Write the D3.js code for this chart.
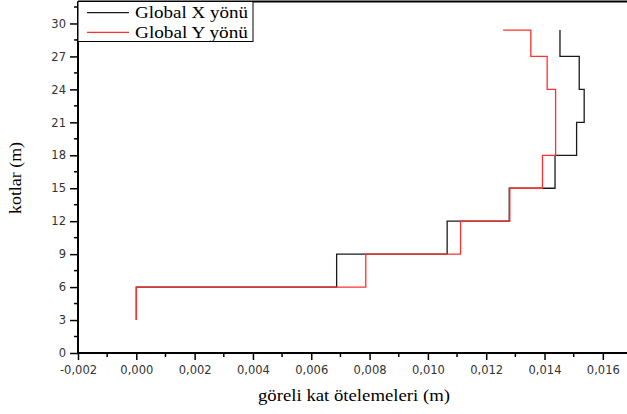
<!DOCTYPE html>
<html lang="tr">
<head>
<meta charset="UTF-8">
<title>Göreli kat ötelemeleri</title>
<script src="https://cdn.jsdelivr.net/npm/d3@7"></script>
<style>
  body { margin: 0; background: #fff; }
  svg { display: block; overflow: hidden; }
  .tick-label { font-family: "DejaVu Sans", Verdana, sans-serif; font-size: 11.5px; fill: #333; }
  .serif { font-family: "Liberation Serif", "Times New Roman", serif; fill: #000; }
</style>
</head>
<body>
<svg id="chart" width="627" height="414"></svg>
<script>
// kat yükseklikleri (m)
var heights = [3, 6, 9, 12, 15, 18, 21, 24, 27, 29.4];
// göreli kat ötelemeleri (m)
var globalX = [0, 0.00687, 0.01066, 0.01279, 0.01436, 0.01510, 0.01536, 0.01519, 0.01453, 0.01453];
var globalY = [0, 0.00787, 0.01112, 0.01281, 0.01393, 0.01438, 0.01438, 0.01409, 0.01353, 0.01258];
var seriesNames = ["Global X yönü", "Global Y yönü"];
var seriesColors = ["#1a1a1a", "#ff3030"];
var xTicks = [-0.002, 0, 0.002, 0.004, 0.006, 0.008, 0.010, 0.012, 0.014, 0.016];
var yTicks = [0, 3, 6, 9, 12, 15, 18, 21, 24, 27, 30];

var plotLeft = 78, plotRight = 632, plotTop = 1.5, plotBottom = 353;

var svg = d3.select("#chart");

var x = d3.scaleLinear().domain([-0.002, 0.017]).range([plotLeft, plotRight]);
var y = d3.scaleLinear().domain([0, 32]).range([plotBottom, plotTop]);

var loc = d3.formatLocale({decimal: ",", thousands: ".", grouping: [3], currency: ["", ""], minus: "-"});
var fmt = loc.format(".3f");

// minor ticks
var xMinor = d3.range(-0.001, 0.017, 0.002);
var yMinor = d3.range(1.5, 32, 3);

svg.append("g").selectAll("line").data(xMinor).enter().append("line")
  .attr("x1", function(d) { return x(d); }).attr("x2", function(d) { return x(d); })
  .attr("y1", plotBottom).attr("y2", plotBottom + 4)
  .attr("stroke", "#000").attr("stroke-width", 1.5);
svg.append("g").selectAll("line").data(yMinor).enter().append("line")
  .attr("y1", function(d) { return y(d); }).attr("y2", function(d) { return y(d); })
  .attr("x1", plotLeft).attr("x2", plotLeft - 4)
  .attr("stroke", "#000").attr("stroke-width", 1.5);

// major axes
var xAxis = svg.append("g")
  .attr("transform", "translate(0," + plotBottom + ")")
  .call(d3.axisBottom(x).tickValues(xTicks).tickFormat(fmt).tickSize(7).tickPadding(4));
var yAxis = svg.append("g")
  .attr("transform", "translate(" + plotLeft + ",0)")
  .call(d3.axisLeft(y).tickValues(yTicks).tickFormat(d3.format("d")).tickSize(8).tickPadding(4));

[xAxis, yAxis].forEach(function(a) {
  a.select(".domain").remove();
  a.selectAll(".tick line").attr("stroke", "#000").attr("stroke-width", 1.5);
  a.selectAll(".tick text").attr("class", "tick-label").attr("fill", null);
});
xAxis.selectAll(".tick text").attr("dy", "0.9em");

// frame
svg.append("line").attr("x1", plotLeft).attr("x2", plotLeft).attr("y1", plotTop).attr("y2", plotBottom + 1)
  .attr("stroke", "#000").attr("stroke-width", 2);
svg.append("line").attr("x1", plotLeft - 1).attr("x2", 627).attr("y1", plotBottom).attr("y2", plotBottom)
  .attr("stroke", "#000").attr("stroke-width", 2);
svg.append("line").attr("x1", plotLeft).attr("x2", 627).attr("y1", plotTop).attr("y2", plotTop)
  .attr("stroke", "#000").attr("stroke-width", 2);

// step lines
var line = d3.line()
  .x(function(d) { return x(d[0]); })
  .y(function(d) { return y(d[1]); })
  .curve(d3.curveStepBefore);

[globalX, globalY].forEach(function(vals, i) {
  var pts = vals.map(function(v, j) { return [v, heights[j]]; });
  svg.append("path").datum(pts)
    .attr("d", line)
    .attr("fill", "none")
    .attr("stroke", seriesColors[i])
    .attr("stroke-width", 1.3);
});

// legend
var lg = svg.append("g");
lg.append("rect").attr("x", plotLeft).attr("y", plotTop).attr("width", 175).attr("height", 40)
  .attr("fill", "#fff").attr("stroke", "#000").attr("stroke-width", 1);
seriesNames.forEach(function(name, i) {
  var ly = 12.7 + i * 19.6;
  lg.append("line").attr("x1", 87).attr("x2", 129).attr("y1", ly).attr("y2", ly)
    .attr("stroke", seriesColors[i]).attr("stroke-width", 1.3);
  lg.append("text").attr("class", "serif").attr("x", 135).attr("y", ly + 5.5)
    .attr("font-size", "17px")
    .attr("textLength", 113).attr("lengthAdjust", "spacingAndGlyphs")
    .text(name);
});

// axis titles
svg.append("text").attr("class", "serif").attr("font-size", "17px")
  .attr("text-anchor", "middle").attr("x", 354).attr("y", 401)
  .attr("textLength", 192).attr("lengthAdjust", "spacingAndGlyphs")
  .text("göreli kat ötelemeleri (m)");
svg.append("text").attr("class", "serif").attr("font-size", "17px")
  .attr("text-anchor", "middle")
  .attr("transform", "translate(21,178) rotate(-90)")
  .attr("textLength", 72).attr("lengthAdjust", "spacingAndGlyphs")
  .text("kotlar (m)");
</script>
</body>
</html>
